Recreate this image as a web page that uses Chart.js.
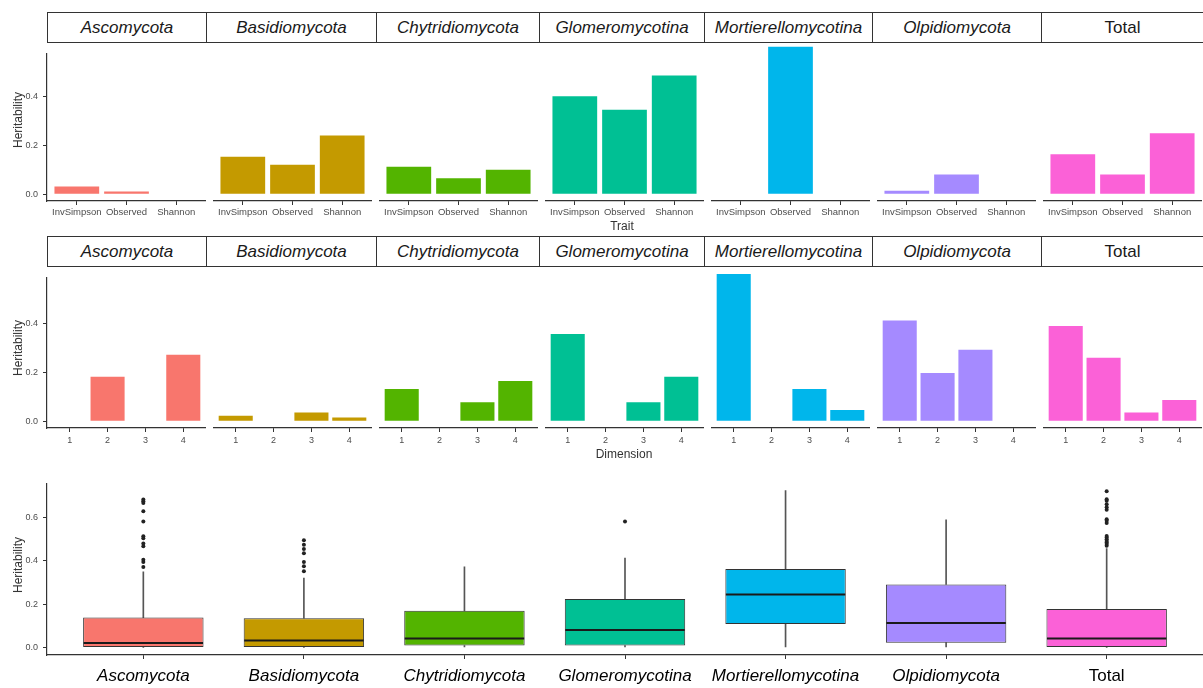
<!DOCTYPE html>
<html>
<head>
<meta charset="utf-8">
<script src="https://cdn.jsdelivr.net/npm/chart.js@4.4.1/dist/chart.umd.min.js"></script>
<style>
  body { margin: 0; background: #fff; width: 1203px; height: 688px; position: relative; overflow: hidden;
         font-family: "Liberation Sans", Arial, sans-serif; }
  canvas { position: absolute; }
  .strip { position: absolute; box-sizing: border-box; border: 1px solid #333; background: #fff;
           display: flex; align-items: center; justify-content: center;
           font-size: 17px; font-style: italic; color: #1a1a1a; }
  .lab { position: absolute; color: #333; font-size: 12px; white-space: nowrap; }
</style>
</head>
<body>
<script>
// facets
const phyla = ['Ascomycota', 'Basidiomycota', 'Chytridiomycota', 'Glomeromycotina',
               'Mortierellomycotina', 'Olpidiomycota', 'Total'];
const phylaColors = ['#F8766D', '#C49A00', '#53B400', '#00C094', '#00B6EB', '#A58AFF', '#FB61D7'];

// top row: heritability per diversity trait
const traits = ['InvSimpson', 'Observed', 'Shannon'];
const traitHeritability = [
  [0.031, 0.011, 0],
  [0.141, 0.111, 0.222],
  [0.103, 0.059, 0.091],
  [0.372, 0.321, 0.452],
  [0, 0.562, 0],
  [0.011, 0.073, 0],
  [0.151, 0.073, 0.231]
];

// middle row: heritability per ordination dimension
const dimensions = ['1', '2', '3', '4'];
const dimHeritability = [
  [0, 0.183, 0, 0.273],
  [0.019, 0, 0.032, 0.012],
  [0.122, 0, 0.071, 0.153],
  [0.333, 0, 0.071, 0.169],
  [0.564, 0, 0.122, 0.041],
  [0.385, 0.183, 0.273, 0],
  [0.364, 0.242, 0.032, 0.080]
];

// bottom row: boxplot summaries
const whiskerLow  = [0, 0, 0, 0, 0, 0, 0];
const boxQ1       = [0, 0, 0.009, 0.009, 0.108, 0.022, 0];
const boxMedian   = [0.020, 0.032, 0.041, 0.081, 0.245, 0.113, 0.041];
const boxQ3       = [0.138, 0.135, 0.169, 0.224, 0.362, 0.291, 0.177];
const whiskerHigh = [0.349, 0.321, 0.372, 0.413, 0.725, 0.590, 0.457];
const outliers = [
  [0.684, 0.676, 0.668, 0.629, 0.582, 0.514, 0.505, 0.480, 0.468, 0.405, 0.395, 0.372],
  [0.495, 0.475, 0.455, 0.435, 0.395, 0.375, 0.352],
  [],
  [0.582],
  [],
  [],
  [0.722, 0.685, 0.678, 0.662, 0.648, 0.636, 0.592, 0.585, 0.575,
   0.515, 0.508, 0.500, 0.492, 0.485, 0.478, 0.470]
];

const yTicksBar = [0, 0.2, 0.4];
const yTicksBox = [0, 0.2, 0.4, 0.6];

const FONT = '"Liberation Sans", Arial, sans-serif';
const AXIS = '#333';
const TICKTXT = '#4d4d4d';
const stripEdges = [47, 206, 376, 539, 704, 872, 1041, 1203];

function addCanvas(left, top, w, h) {
  const cv = document.createElement('canvas');
  cv.width = w; cv.height = h;
  cv.style.left = left + 'px';
  cv.style.top = top + 'px';
  document.body.appendChild(cv);
  return cv;
}

function addLabel(text, cx, cy, rotate) {
  const d = document.createElement('div');
  d.className = 'lab';
  d.textContent = text;
  d.style.left = cx + 'px';
  d.style.top = cy + 'px';
  d.style.transform = 'translate(-50%,-50%)' + (rotate ? ' rotate(-90deg)' : '');
  document.body.appendChild(d);
}

function addStrips(top) {
  for (let j = 0; j < phyla.length; j++) {
    const d = document.createElement('div');
    d.className = 'strip';
    d.textContent = phyla[j];
    if (phyla[j] === 'Total') d.style.fontStyle = 'normal';
    d.style.left = stripEdges[j] + 'px';
    d.style.top = top + 'px';
    d.style.width = (stripEdges[j + 1] - stripEdges[j] + 1) + 'px';
    d.style.height = '31px';
    document.body.appendChild(d);
  }
}

function yScale(show, min, max, ticks) {
  return {
    display: show, min: min, max: max,
    afterBuildTicks: s => { s.ticks = ticks.map(v => ({ value: v })); },
    afterFit: s => { s.width = show ? 47 : 0; },
    grid: { drawOnChartArea: false, tickLength: 4, color: AXIS, lineWidth: 1 },
    border: { display: true, color: AXIS, width: 1.2 },
    ticks: { callback: v => v.toFixed(1), padding: 5, color: TICKTXT, font: { family: FONT, size: 9 } }
  };
}

// linear index axis with ggplot-like 0.6 expansion
function xScale(n, h, labels, pad, font, color) {
  return {
    type: 'linear', min: 0.4, max: n + 0.6, offset: false,
    afterBuildTicks: s => { s.ticks = labels.map((c, k) => ({ value: k + 1 })); },
    afterFit: s => { s.height = h; },
    grid: { offset: false, drawOnChartArea: false, tickLength: 4, color: AXIS, lineWidth: 1 },
    border: { display: true, color: AXIS, width: 1.2 },
    ticks: { callback: (v, idx) => labels[idx], autoSkip: false, maxRotation: 0,
             padding: pad, color: color, font: font }
  };
}

function barRow(cfg) {
  for (let i = 0; i < phyla.length; i++) {
    const first = i === 0;
    const yW = first ? 47 : 0;
    const left = 47 + 166 * i - yW;
    const plotH = cfg.bottom - cfg.top;
    const cv = addCanvas(left, cfg.top, 159 + yW, plotH + cfg.xH);
    const cats = cfg.cats;
    new Chart(cv, {
      type: 'bar',
      data: {
        datasets: [{
          data: cfg.values[i].map((v, k) => ({ x: k + 1, y: v })),
          backgroundColor: phylaColors[i],
          barPercentage: 0.9, categoryPercentage: 1, grouped: false
        }]
      },
      options: {
        responsive: false, animation: false,
        layout: { padding: 0, autoPadding: false },
        plugins: { legend: { display: false }, tooltip: { enabled: false } },
        scales: {
          x: xScale(cats.length, cfg.xH, cats, cfg.pad, { family: FONT, size: cfg.fs }, TICKTXT),
          y: yScale(first, cfg.min, cfg.max, yTicksBar)
        }
      }
    });
  }
}

// top row
addStrips(12);
barRow({ top: 43, bottom: 201, xH: 22, cats: traits, values: traitHeritability,
         min: -0.028, max: 0.576, fs: 9.5, pad: 2 });
addLabel('Heritability', 18, 120, true);
addLabel('Trait', 622, 226);

// middle row
addStrips(236);
barRow({ top: 267, bottom: 428, xH: 22, cats: dimensions, values: dimHeritability,
         min: -0.028, max: 0.591, fs: 9, pad: 3 });
addLabel('Heritability', 18, 348, true);
addLabel('Dimension', 624, 454);

// bottom row: boxplots
const boxTop = 473, boxBottom = 655, boxXH = 33;
const cvBox = addCanvas(0, boxTop, 1203, boxBottom - boxTop + boxXH);
const idx = phyla.map((p, k) => k + 1);
const whiskerStyle = { backgroundColor: '#555', barThickness: 1, grouped: false };
const outlierPts = [];
outliers.forEach((list, k) => list.forEach(v => outlierPts.push({ x: k + 1, y: v })));

// median line drawn across each box element, using the y scale
const medianLines = {
  id: 'medianLines',
  afterDatasetsDraw(chart) {
    const ctx = chart.ctx;
    const boxes = chart.getDatasetMeta(0).data;
    ctx.save();
    ctx.strokeStyle = '#1a1a1a';
    ctx.lineWidth = 2;
    boxes.forEach((el, k) => {
      const y = chart.scales.y.getPixelForValue(boxMedian[k]);
      ctx.beginPath();
      ctx.moveTo(el.x - el.width / 2 + 0.5, y);
      ctx.lineTo(el.x + el.width / 2 - 0.5, y);
      ctx.stroke();
    });
    ctx.restore();
  }
};

new Chart(cvBox, {
  type: 'bar',
  data: {
    datasets: [
      { data: idx.map((x, k) => ({ x: x, y: [boxQ1[k], boxQ3[k]] })),
        backgroundColor: phylaColors, borderColor: '#333', borderWidth: 1, borderSkipped: false,
        barPercentage: 0.75, categoryPercentage: 1, grouped: false },
      Object.assign({ data: idx.map((x, k) => ({ x: x, y: [boxQ3[k], whiskerHigh[k]] })) }, whiskerStyle),
      Object.assign({ data: idx.map((x, k) => ({ x: x, y: [whiskerLow[k], boxQ1[k]] })) }, whiskerStyle),
      { type: 'scatter', data: outlierPts, pointRadius: 2, pointBackgroundColor: '#222',
        pointBorderWidth: 0, showLine: false }
    ]
  },
  options: {
    responsive: false, animation: false,
    layout: { padding: 0, autoPadding: false },
    plugins: { legend: { display: false }, tooltip: { enabled: false } },
    scales: {
      x: xScale(phyla.length, boxXH, phyla, 7,
                ctx => ({ family: FONT, size: 17, style: phyla[ctx.index] === 'Total' ? 'normal' : 'italic' }),
                '#000'),
      y: yScale(true, -0.035, 0.758, yTicksBox)
    }
  },
  plugins: [medianLines]
});
addLabel('Heritability', 18, 565, true);
</script>
</body>
</html>
